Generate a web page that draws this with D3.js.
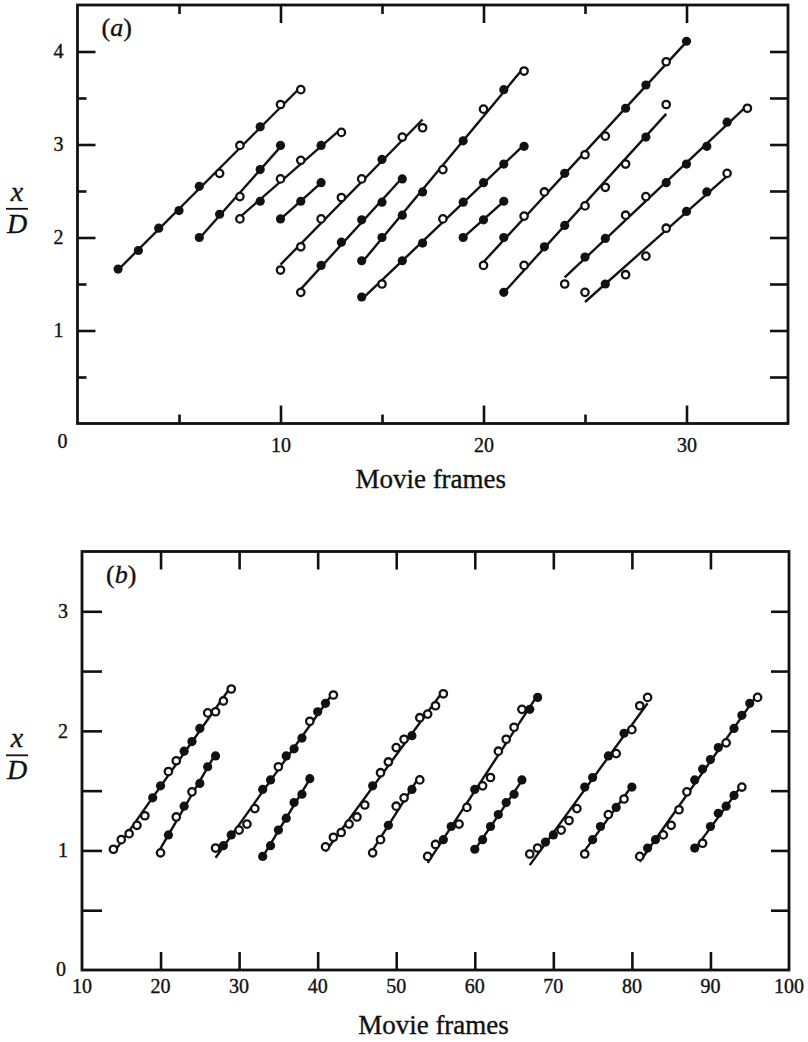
<!DOCTYPE html>
<html><head><meta charset="utf-8">
<script src="https://cdn.jsdelivr.net/npm/d3@7"></script>
<style>
body{margin:0;background:#fff}
svg{display:block}
text{font-family:"Liberation Serif","Times New Roman",serif;fill:#111;stroke:#111;stroke-width:0.35px}
</style>
</head><body>
<svg id="chart" width="808" height="1042"></svg>
<script>
// ---------- Panel (a) data: start frame, x/D values, marker type (F filled, O open)
const aStarts = [2, 6, 8, 10, 10, 11, 14, 14, 19, 20, 21, 24, 25];
const aValues = [
  [1.66, 1.86, 2.10, 2.29, 2.55, 2.69, 2.99, 3.19, 3.43, 3.59],
  [2.00, 2.25, 2.44, 2.73, 2.99],
  [2.20, 2.39, 2.63, 2.83, 2.99, 3.13],
  [2.20, 2.39, 2.59],
  [1.65, 1.90, 2.20, 2.43, 2.63, 2.84, 3.08, 3.18],
  [1.41, 1.70, 1.95, 2.19, 2.38, 2.63],
  [1.75, 2.00, 2.24, 2.49, 2.73, 3.04, 3.38, 3.59, 3.79],
  [1.36, 1.50, 1.75, 1.94, 2.20, 2.38, 2.59, 2.79, 2.98],
  [2.00, 2.19, 2.39],
  [1.70, 2.00, 2.23, 2.49, 2.69, 2.89, 3.09, 3.39, 3.64, 3.89, 4.11],
  [1.41, 1.70, 1.90, 2.13, 2.34, 2.54, 2.79, 3.08, 3.43],
  [1.50, 1.79, 1.99, 2.24, 2.44, 2.59, 2.79, 2.98, 3.24, 3.39],
  [1.41, 1.50, 1.60, 1.80, 2.10, 2.28, 2.49, 2.69]
];
const aMarks = ["FFFFFOOFOO", "FFOFF", "OFOOFO", "FFF", "OOOOOFOO", "OFFFFF",
  "FFFFOFOFO", "FOFFOFFFF", "FFF", "OFOOFOOFFOF", "FOFFOOOFO", "OFFOOFFFFO", "OFOOOFFO"];
const aXTicksMajor = [10, 20, 30];
const aXTicksMinor = [5, 15, 25];
const aYTicksMajor = [1, 2, 3, 4];
const aYTicksMinor = [0.5, 1.5, 2.5, 3.5];

// ---------- Panel (b) data (null = no point in that frame)
const bStarts = [14, 20, 27, 33, 41, 47, 54, 60, 67, 74, 81, 88];
const bValues = [
  [1.01, 1.09, 1.14, 1.21, 1.29, 1.44, 1.54, 1.66, 1.75, 1.83, 1.91, 2.02, 2.15, 2.16, 2.25, 2.35],
  [0.98, 1.13, 1.28, 1.37, 1.49, 1.56, 1.70, 1.79],
  [1.02, 1.04, 1.13, 1.17, 1.22, 1.35, 1.51, 1.59, 1.70, 1.79, 1.85, 1.94, 2.08, 2.16, 2.23, 2.30],
  [0.95, 1.04, 1.17, 1.27, 1.40, 1.47, 1.60],
  [1.03, 1.11, 1.15, 1.22, 1.28, 1.38, 1.54, 1.65, 1.74, 1.86, 1.93, 1.96, 2.11, 2.14, 2.21, 2.31],
  [0.98, 1.09, 1.21, 1.37, 1.44, 1.51, 1.59],
  [0.95, 1.05, 1.09, 1.20, 1.22, 1.36, 1.51, 1.54, 1.61, 1.83, 1.93, 2.03, 2.18, 2.18, 2.28],
  [1.01, 1.09, 1.20, 1.30, 1.40, 1.47, 1.59],
  [0.97, 1.02, 1.07, 1.13, 1.17, 1.25, 1.35, 1.53, 1.61, null, 1.79, 1.81, 1.98, 2.01, 2.21, 2.28],
  [0.97, 1.09, 1.20, 1.30, 1.36, 1.43, 1.53],
  [0.95, 1.02, 1.09, 1.13, 1.21, 1.34, 1.49, 1.59, 1.68, 1.76, 1.86, 1.90, 2.02, 2.13, 2.23, 2.28],
  [1.02, 1.06, 1.20, 1.31, 1.37, 1.46, 1.53]
];
const bMarks = ["OOOOOFFOOFFFOOOO", "OFOFOFFF", "OFFOOOFFOFFFOFFO", "FFFFFFF",
  "OOOOOOFOOOOFOOOO", "OOFOOFO", "OOFFOOFOOOOOOFF", "FFFFFFF",
  "OOFFOOOFF-FOFOOO", "OFFOFOF", "OFFOOOOFFFFOFFFO", "FOFFFFO"];
const bXTicks = [20, 30, 40, 50, 60, 70, 80, 90];
const bXLabels = [10, 20, 30, 40, 50, 60, 70, 80, 90, 100];
const bYTicksMajor = [1, 2, 3];
const bYTicksMinor = [0.5, 1.5, 2.5];

const svg = d3.select('#chart');
const INK = '#111';

function fit(pts) {
  const mx = d3.mean(pts, d => d.f), my = d3.mean(pts, d => d.v);
  let sxy = 0, sxx = 0;
  pts.forEach(d => { sxy += (d.f - mx) * (d.v - my); sxx += (d.f - mx) * (d.f - mx); });
  const b = sxy / sxx, a = my - b * mx;
  const f0 = d3.min(pts, d => d.f), f1 = d3.max(pts, d => d.f);
  return [{f: f0, v: a + b * f0}, {f: f1, v: a + b * f1}];
}

function drawPanel(o) {
  const x = d3.scaleLinear().domain(o.xDomain).range([o.left, o.right]);
  const y = d3.scaleLinear().domain(o.yDomain).range([o.bottom, o.top]);
  const g = svg.append('g');

  const tickAxis = (gen, size, values, transform, labels) => {
    const ax = gen.tickValues(values).tickSizeInner(-size).tickSizeOuter(0)
      .tickPadding(labels ? o.labelPad : 0).tickFormat(labels ? d3.format('d') : '');
    const sel = g.append('g').attr('transform', transform).call(ax);
    sel.select('.domain').remove();
    sel.selectAll('line').attr('stroke', INK).attr('stroke-width', 2.6);
    sel.selectAll('text').attr('font-size', 20).attr('fill', INK)
      .style('font-family', '"Liberation Serif","Times New Roman",serif');
    return sel;
  };

  tickAxis(d3.axisLeft(y), o.yMajorLeft, o.yTicksMajor, `translate(${o.left},0)`, true);
  tickAxis(d3.axisLeft(y), o.yMinorLeft, o.yTicksMinor, `translate(${o.left},0)`, false);
  tickAxis(d3.axisRight(y), o.yRight, o.yTicksMajor.concat(o.yTicksMinor), `translate(${o.right},0)`, false);
  tickAxis(d3.axisBottom(x), o.xMajor, o.xTicksMajor, `translate(0,${o.bottom})`, o.xTicksLabelled);
  if (o.xTicksMinor.length) {
    tickAxis(d3.axisBottom(x), o.xMinor, o.xTicksMinor, `translate(0,${o.bottom})`, false);
    tickAxis(d3.axisTop(x), o.xMinor, o.xTicksMinor, `translate(0,${o.top})`, false);
  }
  tickAxis(d3.axisTop(x), o.xMajor, o.xTicksMajor, `translate(0,${o.top})`, false);

  o.extraLabels(g, x, y);

  g.append('rect').attr('x', o.left).attr('y', o.top)
    .attr('width', o.right - o.left).attr('height', o.bottom - o.top)
    .attr('fill', 'none').attr('stroke', INK).attr('stroke-width', 2.8);

  const series = o.starts.map((s, i) => o.values[i].map((v, k) => ({f: s + k, v: v, m: o.marks[i][k]}))
    .filter(d => d.v !== null));
  const line = d3.line().x(d => x(d.f)).y(d => y(d.v));
  g.append('g').selectAll('path').data(series).join('path')
    .attr('d', s => line(fit(s))).attr('fill', 'none').attr('stroke', INK).attr('stroke-width', 2.4);
  const pts = series.flat();
  g.append('g').selectAll('circle').data(pts).join('circle')
    .attr('cx', d => x(d.f)).attr('cy', d => y(d.v))
    .attr('r', d => d.m === 'F' ? 4.6 : 3.7)
    .attr('fill', d => d.m === 'F' ? INK : '#fff')
    .attr('stroke', INK).attr('stroke-width', d => d.m === 'F' ? 0 : 2.3);

  g.append('text').attr('x', o.left + 24).attr('y', o.top + 31)
    .attr('font-size', 26).html('(<tspan font-style="italic">' + o.tag + '</tspan>)');

  g.append('text').attr('x', (o.left + o.right) / 2 - 2).attr('y', o.bottom + 64)
    .attr('text-anchor', 'middle').attr('font-size', 27).text('Movie frames');

  const ym = o.top + (o.bottom - o.top) * 0.487;
  g.append('text').attr('x', 17).attr('y', ym - 8).attr('text-anchor', 'middle')
    .attr('font-size', 28).attr('font-style', 'italic').text('x');
  g.append('line').attr('x1', 6).attr('x2', 28).attr('y1', ym).attr('y2', ym)
    .attr('stroke', INK).attr('stroke-width', 1.8);
  g.append('text').attr('x', 17).attr('y', ym + 24).attr('text-anchor', 'middle')
    .attr('font-size', 28).attr('font-style', 'italic').text('D');
}

drawPanel({
  tag: 'a', xDomain: [0, 35], yDomain: [0, 4.5],
  left: 77.5, right: 788, top: 5, bottom: 423.5,
  labelPad: 14,
  yTicksMajor: aYTicksMajor, yTicksMinor: aYTicksMinor,
  yMajorLeft: 18, yMinorLeft: 9, yRight: 18,
  xTicksMajor: aXTicksMajor, xTicksMinor: aXTicksMinor, xTicksLabelled: true,
  xMajor: 18, xMinor: 9,
  starts: aStarts, values: aValues, marks: aMarks,
  extraLabels: (g, x, y) => {
    g.append('text').attr('x', x(0) - 15).attr('y', y(0) + 24).attr('text-anchor', 'middle')
      .attr('font-size', 20).text('0');
  }
});

drawPanel({
  tag: 'b', xDomain: [10, 100], yDomain: [0, 3.5],
  left: 82, right: 789, top: 551.5, bottom: 970,
  labelPad: 14,
  yTicksMajor: bYTicksMajor, yTicksMinor: bYTicksMinor,
  yMajorLeft: 20, yMinorLeft: 20, yRight: 18,
  xTicksMajor: bXTicks, xTicksMinor: [], xTicksLabelled: false,
  xMajor: 18, xMinor: 0,
  starts: bStarts, values: bValues, marks: bMarks,
  extraLabels: (g, x, y) => {
    g.append('g').selectAll('text').data(bXLabels).join('text')
      .attr('x', d => x(d)).attr('y', y(0) + 23).attr('text-anchor', 'middle')
      .attr('font-size', 20).text(d => d);
    g.append('text').attr('x', x(10) - 16).attr('y', y(0) + 6).attr('text-anchor', 'end')
      .attr('font-size', 20).text('0');
  }
});
</script>
</body></html>
